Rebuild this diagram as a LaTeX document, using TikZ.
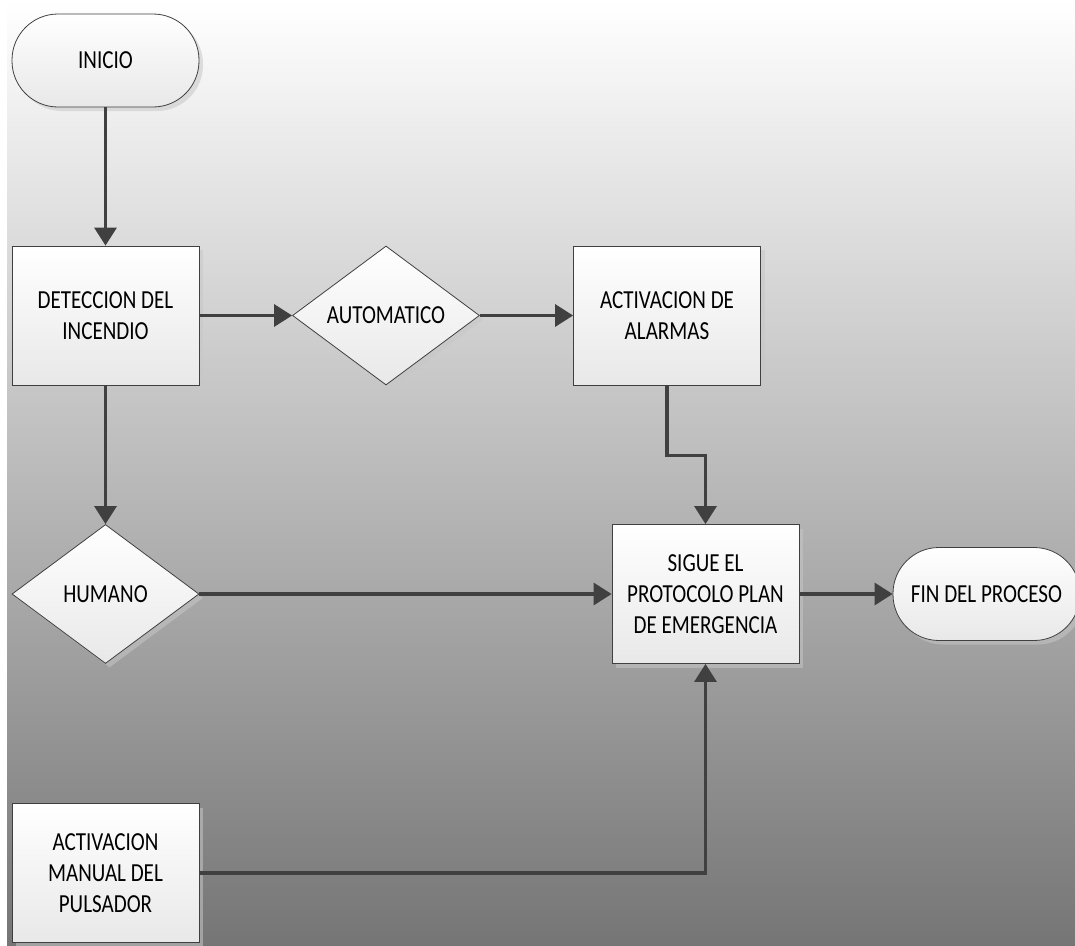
\documentclass[tikz,border=0pt]{standalone}
\usepackage{fontspec}
\setmainfont{Carlito}[FakeStretch=0.81]
\usetikzlibrary{shapes.geometric,shadows,arrows.meta}
\definecolor{lineGray}{HTML}{404040}

\begin{document}
\begin{tikzpicture}[x=1pt, y=-1pt]
  \tikzset{
    box/.style={align=center, font=\fontsize{26}{31}\selectfont, draw=lineGray, line width=0.8pt,
      top color=white, bottom color=white!91!black,
      drop shadow={shadow xshift=4pt, shadow yshift=-4pt, fill=white!78!black, opacity=0.55}},
    terminal/.style={box, rectangle, rounded corners=46pt, minimum width=187pt, minimum height=93pt},
    process/.style={box, rectangle, minimum width=187pt, minimum height=139pt},
    decision/.style={box, diamond, aspect=1.345, inner sep=0pt, minimum width=187pt, minimum height=139pt},
    flow/.style={draw=lineGray, line width=3.2pt, -{Triangle[length=18pt, width=22pt]}}
  }
  \useasboundingbox (0,0) rectangle (1075,945);
  \shade[top color=white, bottom color=white!46!black] (7,0) rectangle (1075,945);
  \node[terminal] (T-1) at (105.5,60.5) {INICIO};
  \node[process] (P-1) at (105.5,315.5) {DETECCION DEL\\INCENDIO};
  \node[decision] (D-1) at (386,315.5) {AUTOMATICO};
  \node[process] (P-2) at (667,315.5) {ACTIVACION DE\\ALARMAS};
  \node[decision] (D-2) at (105.5,594) {HUMANO};
  \node[process] (P-3) at (705.5,594) {SIGUE EL\\PROTOCOLO PLAN\\DE EMERGENCIA};
  \node[terminal] (T-2) at (986.5,594) {FIN DEL PROCESO};
  \node[process] (P-4) at (105.5,873) {ACTIVACION\\MANUAL DEL\\PULSADOR};
  \draw[flow] (T-1) -- (P-1);
  \draw[flow] (P-1) -- (D-1);
  \draw[flow] (D-1) -- (P-2);
  \draw[flow] (P-1) -- (D-2);
  \draw[flow] (P-2.south) -- ++(0,70) -| (P-3.north);
  \draw[flow] (D-2) -- (P-3);
  \draw[flow] (P-4.east) -| (P-3.south);
  \draw[flow] (P-3) -- (T-2);
\end{tikzpicture}
\end{document}
